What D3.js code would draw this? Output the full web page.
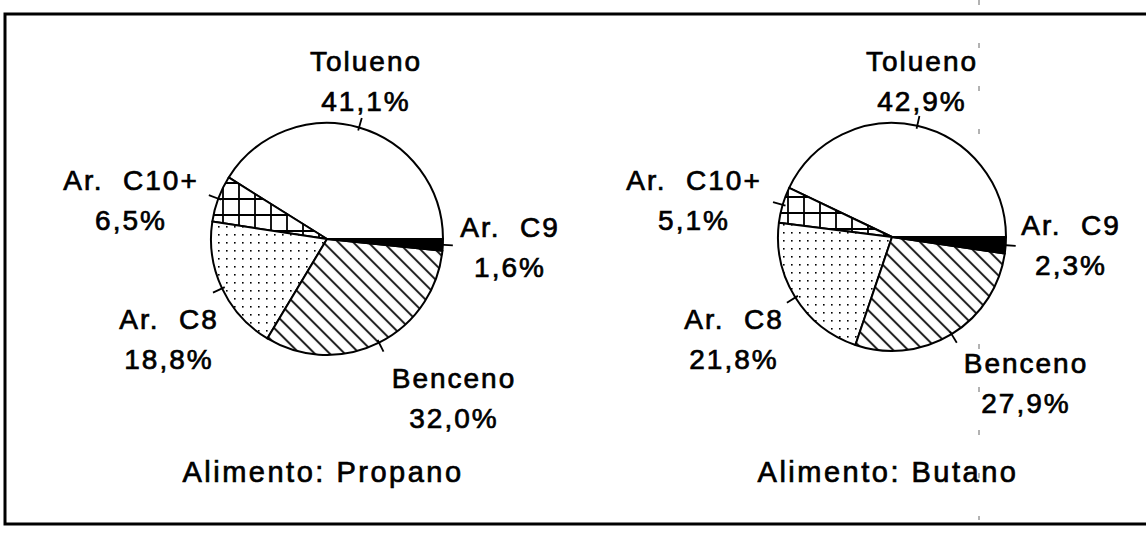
<!DOCTYPE html>
<html>
<head>
<meta charset="utf-8">
<script src="https://cdn.jsdelivr.net/npm/d3@7"></script>
<style>
  html, body { margin: 0; padding: 0; background: #fff; }
  svg { display: block; }
  .lbl { font-family: "Liberation Sans", Arial, sans-serif; fill: #000; stroke: #000; stroke-width: 0.7px; }
</style>
</head>
<body>
<div id="chart"></div>
<script>
// Aromatics distribution for two feeds (propane / butane)
const categories = ['Tolueno', 'Ar. C10+', 'Ar. C8', 'Benceno', 'Ar. C9'];
const propanoValues = [41.1, 6.5, 18.8, 32.0, 1.6];
const butanoValues = [42.9, 5.1, 21.8, 27.9, 2.3];
const valueLabels = [
  ['41,1%', '6,5%', '18,8%', '32,0%', '1,6%'],
  ['42,9%', '5,1%', '21,8%', '27,9%', '2,3%']
];
const feedTitles = ['Alimento: Propano', 'Alimento: Butano'];
const fills = ['#fff', 'url(#cross)', 'url(#dots)', 'url(#diag)', '#000'];

const W = 1146, H = 537;

// layout: pie centres, radius and label offsets (dx, baseline dy) from the centre
const pies = [
  { cx: 327, cy: 239, r: 116, values: propanoValues,
    offsets: [[39, -168], [-196, -49], [-158, 90], [127, 149], [183, -2]] },
  { cx: 892, cy: 237, r: 114, values: butanoValues,
    offsets: [[30, -166], [-198, -47], [-158, 92], [134, 136], [179, -2]] }
];
const lineGap = 40;
const titleY = 482;

const svg = d3.select('#chart').append('svg')
  .attr('width', W).attr('height', H);

// patterns
const defs = svg.append('defs');
const cross = defs.append('pattern').attr('id', 'cross')
  .attr('patternUnits', 'userSpaceOnUse').attr('width', 16).attr('height', 16);
cross.append('rect').attr('width', 16).attr('height', 16).attr('fill', '#fff');
cross.append('path').attr('d', 'M8,0V16M0,8H16')
  .attr('stroke', '#000').attr('stroke-width', 1.8);

const dots = defs.append('pattern').attr('id', 'dots')
  .attr('patternUnits', 'userSpaceOnUse').attr('width', 8).attr('height', 8);
dots.append('rect').attr('width', 8).attr('height', 8).attr('fill', '#fff');
dots.append('rect').attr('x', 3).attr('y', 3).attr('width', 1.6).attr('height', 1.6).attr('fill', '#000');

const diag = defs.append('pattern').attr('id', 'diag')
  .attr('patternUnits', 'userSpaceOnUse').attr('width', 10.6).attr('height', 10.6)
  .attr('patternTransform', 'rotate(45)');
diag.append('rect').attr('width', 10.6).attr('height', 10.6).attr('fill', '#fff');
diag.append('line').attr('x1', 0).attr('x2', 10.6).attr('y1', 5).attr('y2', 5)
  .attr('stroke', '#000').attr('stroke-width', 1.8);

// frame (no right side)
svg.append('path')
  .attr('d', `M${W},14H5V524H${W}`)
  .attr('fill', 'none').attr('stroke', '#000').attr('stroke-width', 3);

// faint scan crease on the right
svg.append('line')
  .attr('x1', 979).attr('x2', 979).attr('y1', 0).attr('y2', 520)
  .attr('stroke', '#666').attr('stroke-width', 1).attr('stroke-dasharray', '5,38');

// slices go counter-clockwise from 3 o'clock
const pie = d3.pie().sort(null).startAngle(Math.PI / 2).endAngle(Math.PI / 2 - 2 * Math.PI);

pies.forEach((p, pi) => {
  const g = svg.append('g').attr('transform', `translate(${p.cx},${p.cy})`);
  const arcs = pie(p.values);
  const arc = d3.arc().innerRadius(0).outerRadius(p.r);

  g.selectAll('path.slice').data(arcs).enter().append('path')
    .attr('class', 'slice')
    .attr('d', arc)
    .attr('fill', (d, i) => fills[i])
    .attr('stroke', '#000').attr('stroke-width', 2).attr('stroke-linejoin', 'round');

  // leader ticks at slice mid-angles
  const mid = d => (d.startAngle + d.endAngle) / 2;
  g.selectAll('line.tick').data(arcs).enter().append('line')
    .attr('class', 'tick')
    .attr('x1', d => Math.sin(mid(d)) * (p.r - 3))
    .attr('y1', d => -Math.cos(mid(d)) * (p.r - 3))
    .attr('x2', d => Math.sin(mid(d)) * (p.r + 10))
    .attr('y2', d => -Math.cos(mid(d)) * (p.r + 10))
    .attr('stroke', '#000').attr('stroke-width', 1.8);

  // labels: name + value
  const lbl = g.selectAll('text.lbl').data(arcs).enter().append('text')
    .attr('class', 'lbl')
    .attr('text-anchor', 'middle')
    .style('font-size', '28px').style('letter-spacing', '2px');
  lbl.append('tspan')
    .attr('x', (d, i) => p.offsets[i][0])
    .attr('y', (d, i) => p.offsets[i][1])
    .text((d, i) => categories[i].replace('Ar. ', 'Ar.\u00a0\u00a0'));
  lbl.append('tspan')
    .attr('x', (d, i) => p.offsets[i][0])
    .attr('y', (d, i) => p.offsets[i][1] + lineGap)
    .text((d, i) => valueLabels[pi][i]);

  svg.append('text').attr('class', 'lbl')
    .attr('x', p.cx - 4).attr('y', titleY)
    .attr('text-anchor', 'middle')
    .style('font-size', '29px').style('letter-spacing', '2.5px')
    .text(feedTitles[pi]);
});
</script>
</body>
</html>
